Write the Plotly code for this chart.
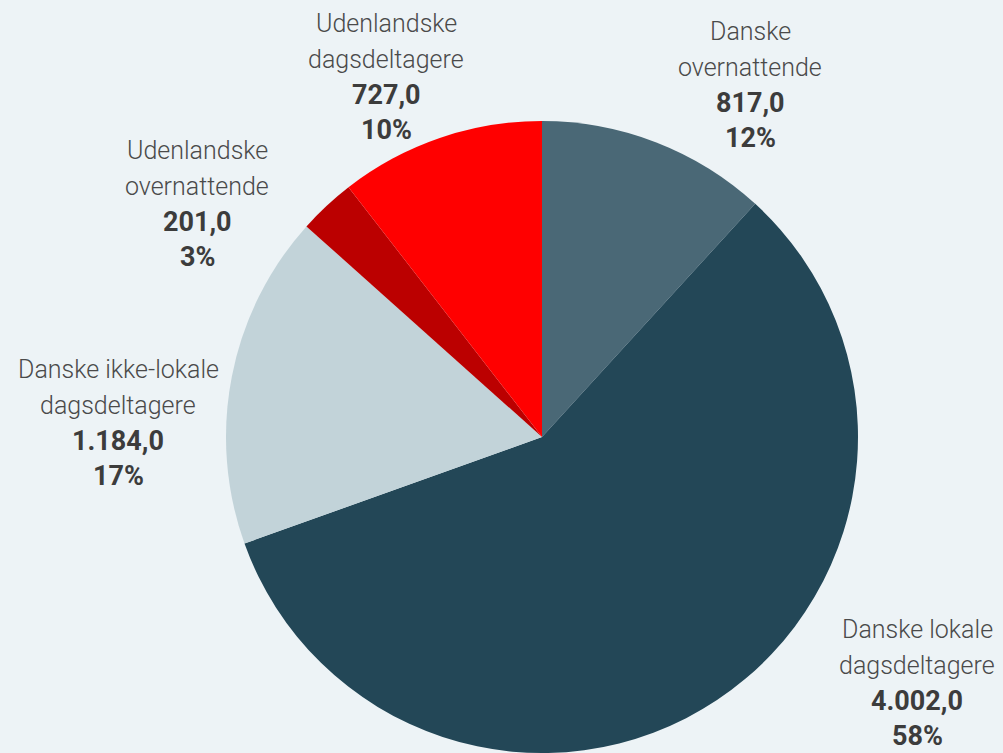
import plotly.graph_objects as go

categories = ["Danske overnattende", "Danske lokale dagsdeltagere",
              "Danske ikke-lokale dagsdeltagere", "Udenlandske overnattende",
              "Udenlandske dagsdeltagere"]
label_lines = [["Danske", "overnattende"], ["Danske lokale", "dagsdeltagere"],
               ["Danske ikke-lokale", "dagsdeltagere"], ["Udenlandske", "overnattende"],
               ["Udenlandske", "dagsdeltagere"]]
values = [817.0, 4002.0, 1184.0, 201.0, 727.0]
colors = ["#4a6876", "#234757", "#c2d3d9", "#bb0000", "#ff0000"]

# label block centres (pixels in a 1003x753 canvas) — layout positions
label_px = [(750, 85), (917, 683), (118, 423), (197, 204), (386, 77)]
LINE_GAP = 35.5

W, H = 1003, 753
cx, cy, r = 542, 437, 316

def dk(v):
    s = f"{v:,.1f}"
    return s.replace(",", "X").replace(".", ",").replace("X", ".")

total = sum(values)

fig = go.Figure(go.Pie(
    labels=categories, values=values, sort=False, direction="clockwise",
    rotation=0, marker=dict(colors=colors, line=dict(width=0)),
    textinfo="none", hoverinfo="none", showlegend=False,
    domain=dict(x=[(cx - r) / W, (cx + r) / W], y=[(H - cy - r) / H, (H - cy + r) / H]),
))

for lines, v, (px, py) in zip(label_lines, values, label_px):
    pct = round(v / total * 100)
    rows = [(lines[0], False), (lines[1], False), (dk(v), True), (f"{pct}%", True)]
    for i, (t, bold) in enumerate(rows):
        y = py + (i - 1.5) * LINE_GAP
        fig.add_annotation(x=px / W, y=1 - y / H, xref="paper", yref="paper",
                           text=f"<b>{t}</b>" if bold else t, showarrow=False,
                           xanchor="center", yanchor="middle", align="center",
                           font=dict(family="Roboto", size=27 if bold else 25,
                                     color="#3c3c3c" if bold else "#4a4a4a",
                                     weight=300))

fig.update_layout(width=W, height=H, autosize=False,
                  margin=dict(l=0, r=0, t=0, b=0),
                  paper_bgcolor="#edf3f6", plot_bgcolor="#edf3f6")

fig.write_html("out.html", config={"displayModeBar": False},
               post_script="document.body.style.margin='0';document.body.style.overflow='hidden';")
